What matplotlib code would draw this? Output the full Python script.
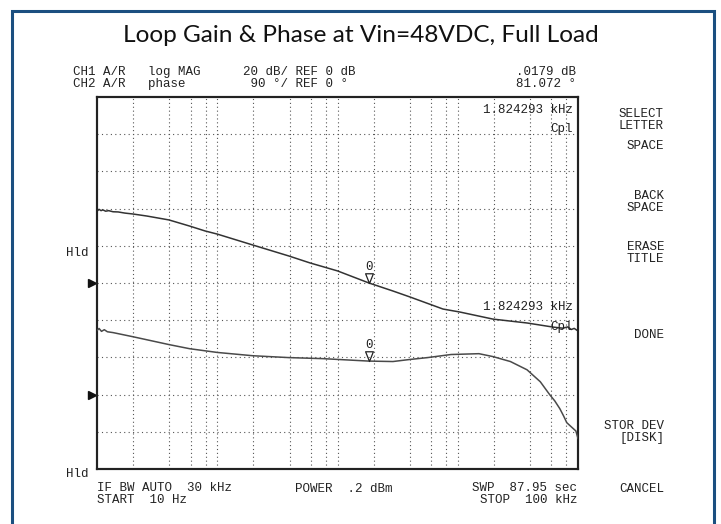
import matplotlib
matplotlib.use("Agg")
import matplotlib.pyplot as plt
from matplotlib.path import Path
from matplotlib.patches import Rectangle
import matplotlib.transforms as mtransforms

# Data
gain_freq = [10, 10.4, 10.8, 11.2, 11.8, 12.5, 13.6, 15, 17, 19.9, 26, 39.7, 59, 79, 100,
             198, 395, 590, 1000, 1824.293, 2890, 4000, 7540, 10400, 19600, 37700, 62000,
             75000, 82000, 88000, 93000, 100000]
gain_db = [38.6, 39.6, 38.9, 39.3, 38.6, 38.9, 38.3, 38.2, 37.6, 37.1, 36.0, 33.9, 30.6, 28.0, 26.3,
           20.4, 14.5, 10.8, 6.5, 0.0179, -4.3, -7.5, -14.0, -15.6, -19.4, -21.5, -23.7,
           -24.3, -23.6, -25.0, -24.4, -25.8]

phase_freq = [10, 10.4, 10.9, 11.5, 12.2, 13.6, 19.9, 39.7, 59, 100, 198, 395, 755, 1824.293,
              2890, 4000, 5600, 8800, 15000, 19600, 27400, 37700, 48600, 58100, 64000,
              70600, 76000, 80700, 89500, 96000, 100000]
phase_deg = [155, 160, 153, 157, 152, 150, 140, 121, 111, 102, 94, 89.5, 87, 81.072,
             80, 85, 89.5, 97, 99, 92, 80, 60, 31, 0, -15,
             -34, -52, -68, -80, -88, -106]

marker_freq = 1824.293
marker_gain = 0.0179
marker_phase = 81.072

grid_freqs = [m * 10 ** k for k in range(1, 5) for m in (2, 4, 6, 8, 10)]

W, H = 721, 524
fig = plt.figure(figsize=(W / 100, H / 100), dpi=100)
fig.patch.set_facecolor("white")

# pixel helper for screen text
pix = mtransforms.Affine2D().scale(1 / W, -1 / H).translate(0, 1) + fig.transFigure
mono = dict(family="Liberation Mono", size=9, color="#222222", transform=pix,
            va="center", linespacing=0.9)


def txt(x, y, s, ha="left"):
    fig.text(x, y, s, ha=ha, multialignment=ha, **mono)


ax = fig.add_axes([97 / W, 1 - 469 / H, 481 / W, 372 / H])
ax2 = ax.twinx()

ax.set_xscale("log")
ax.set_xlim(10, 100000)
ax.set_ylim(-100, 100)
ax2.set_ylim(-180, 720)

for f in grid_freqs:
    ax.axvline(f, color="#555555", lw=0.8, ls=(0, (1, 2.5)), zorder=0)
for d in range(-80, 100, 20):
    ax.axhline(d, color="#555555", lw=0.8, ls=(0, (1, 3)), zorder=0)

for a in (ax, ax2):
    a.set_xticks([])
    a.set_yticks([])
    a.minorticks_off()
    a.tick_params(which="both", length=0)
    for s in a.spines.values():
        s.set_linewidth(1.5)
        s.set_color("#222222")

ax.plot(gain_freq, gain_db, color="#333333", lw=1.1, zorder=3)
ax2.plot(phase_freq, phase_deg, color="#4a4a4a", lw=1.1, zorder=3)

# delta-style marker with tip on the trace
tri = Path([(-0.4, 1), (0.4, 1), (0, 0), (-0.4, 1)],
           [Path.MOVETO, Path.LINETO, Path.LINETO, Path.CLOSEPOLY])
for a, val in ((ax, marker_gain), (ax2, marker_phase)):
    a.plot([marker_freq], [val], marker=tri, ms=14, mfc="none", mec="#222222", mew=0.9, zorder=4)
    a.annotate("0", (marker_freq, val), xytext=(0, 7), textcoords="offset points",
               ha="center", va="bottom", family="Liberation Mono", size=9, color="#222222")

# reference position arrows at left edge
bl = mtransforms.blended_transform_factory(ax.transAxes, ax.transData)
ax.plot([-0.011], [0], marker=">", ms=6, color="#111111", transform=bl, clip_on=False)
bl2 = mtransforms.blended_transform_factory(ax2.transAxes, ax2.transData)
ax2.plot([-0.011], [0], marker=">", ms=6, color="#111111", transform=bl2, clip_on=False)

# title
fig.text(361, 42, "Loop Gain & Phase at Vin=48VDC, Full Load", transform=pix,
         ha="center", va="baseline", family="Lato", size=17.6, color="#111111")

# header
txt(73, 78, "CH1 A/R   log MAG\nCH2 A/R   phase")
txt(243, 78, "20 dB/ REF 0 dB\n 90 °/ REF 0 °")
txt(576, 78, ".0179 dB\n81.072 °", ha="right")

# marker readouts inside the grid
txt(573, 110, "1.824293 kHz", ha="right")
txt(573, 129, "Cpl", ha="right")
txt(573, 307, "1.824293 kHz", ha="right")
txt(573, 327, "Cpl", ha="right")

txt(66, 253, "Hld")
txt(66, 474, "Hld")

# footer
txt(97, 494, "IF BW AUTO  30 kHz\nSTART  10 Hz")
txt(295, 489, "POWER  .2 dBm")
txt(577, 494, "SWP  87.95 sec\nSTOP  100 kHz", ha="right")

# softkey labels
softkeys = [(120, "SELECT\nLETTER"), (146, "SPACE"), (202, "BACK\nSPACE"),
            (253, "ERASE\nTITLE"), (335, "DONE"), (432, "STOR DEV\n[DISK]"), (489, "CANCEL")]
for y, s in softkeys:
    txt(664, y, s, ha="right")

# frame around the screenshot
fig.patches.append(Rectangle((12 / W, -0.05), 702 / W, 1.05 - 11 / H, transform=fig.transFigure,
                             fill=False, edgecolor="#1b4f80", lw=2.2, clip_on=False))

fig.savefig("out.png", dpi=100)
